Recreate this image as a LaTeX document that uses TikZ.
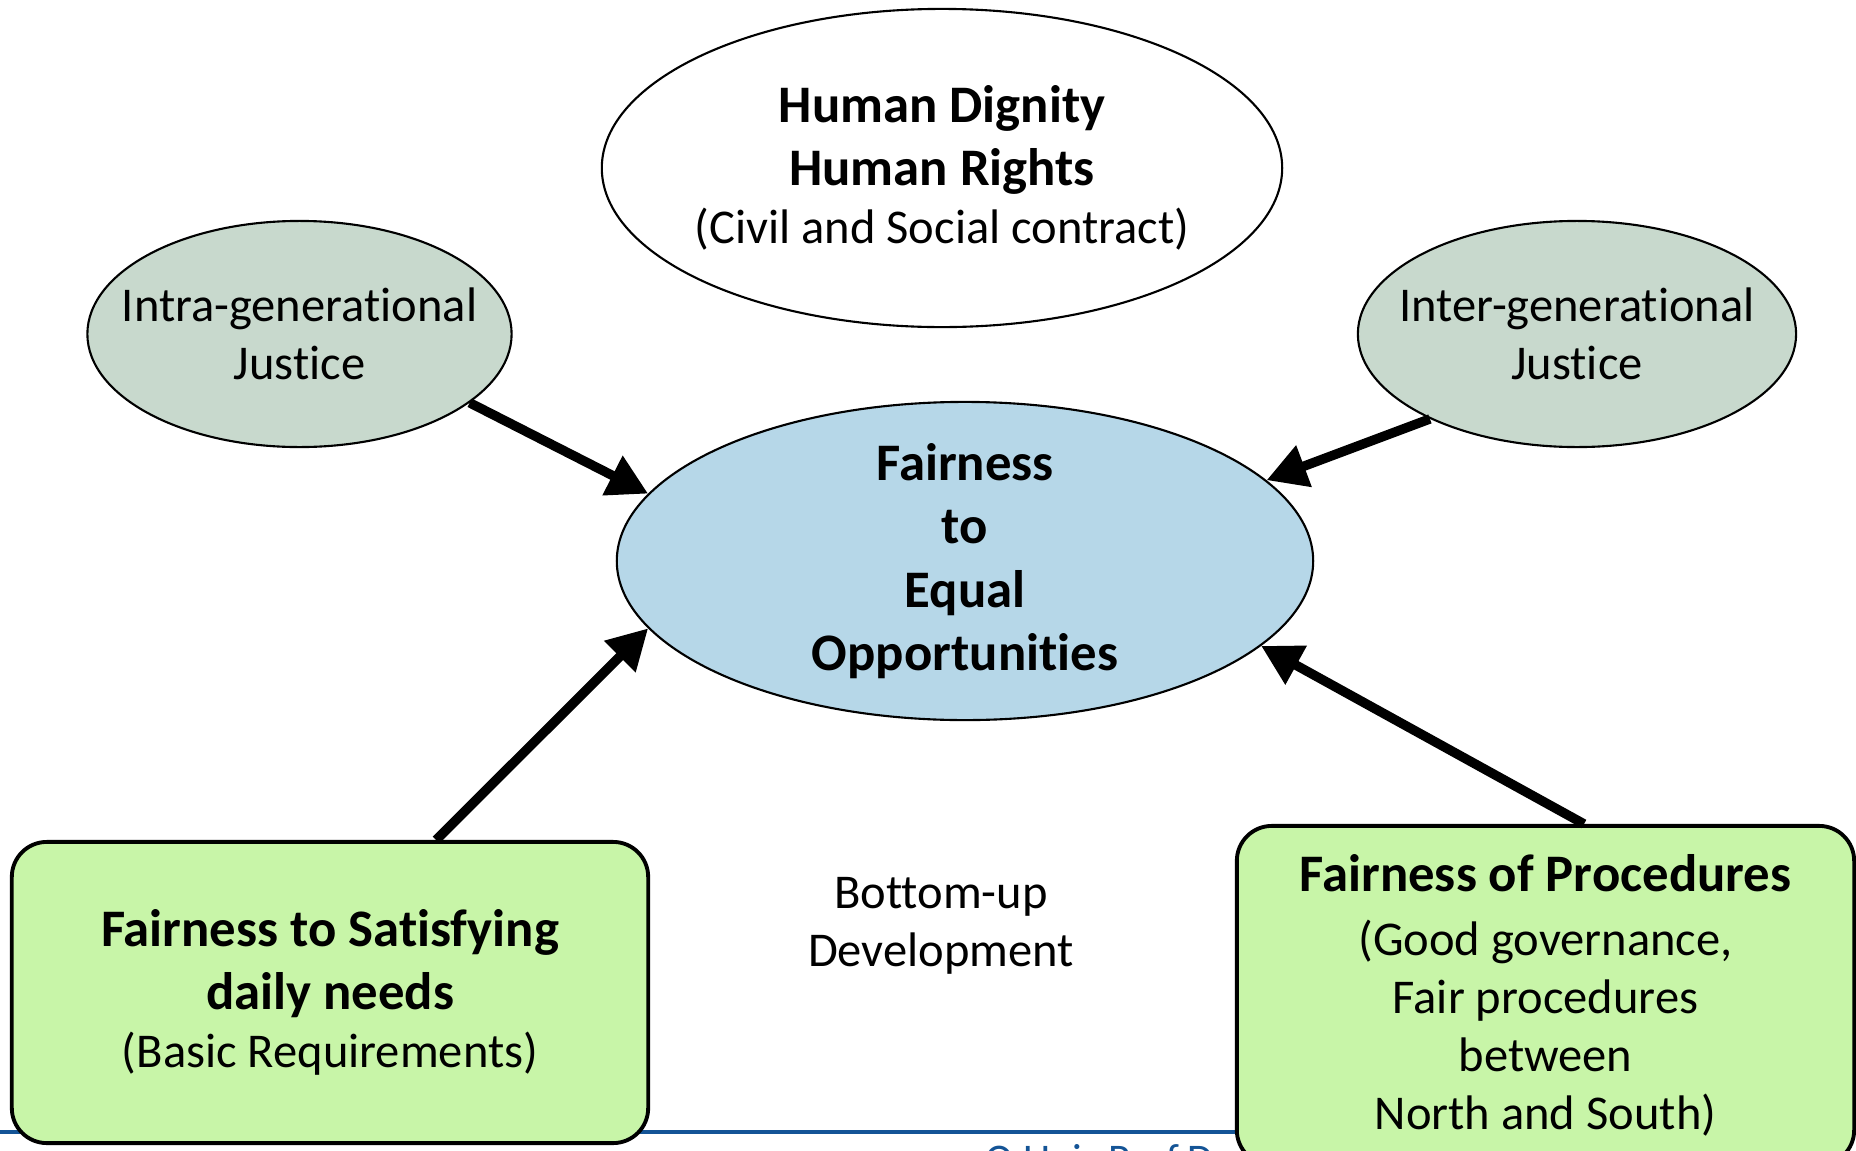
\documentclass[tikz,border=0pt]{standalone}
\usepackage{fontspec}
\setmainfont{Carlito}[Ligatures=NoCommon]
\usetikzlibrary{shapes.geometric,arrows.meta}
\definecolor{sagegreen}{RGB}{200,217,205}
\definecolor{paleblue}{RGB}{182,215,232}
\definecolor{limegreen}{RGB}{200,245,168}
\definecolor{footblue}{RGB}{20,84,150}
\newcommand{\heavy}[1]{{\fontsize{15}{16.5}\selectfont\bfseries #1}}

\begin{document}
\begin{tikzpicture}[x=.01cm,y=-.01cm,
  blob/.style={ellipse,draw,line width=.6pt,inner sep=-1cm,align=center,
    font=\fontsize{13.8}{16.5}\selectfont},
  panel/.style={draw,line width=1.1pt,rounded corners=.35cm,fill=limegreen,
    inner sep=0pt,align=center,font=\fontsize{13.8}{16.5}\selectfont},
  fat/.style={line width=2.7pt,-{Triangle[length=.4cm,width=.42cm]}}]

\clip (0,0) rectangle (1856,1151);

% ellipses
\node[blob,minimum width=6.8cm,minimum height=3.18cm] (dignity)
  at (942,168) {\heavy{Human Dignity}\\[1.5pt]\heavy{Human Rights}\\(Civil and Social contract)};
\node[blob,fill=sagegreen,minimum width=4.24cm,minimum height=2.26cm] (intra)
  at (299.5,334) {Intra-generational\\Justice};
\node[blob,fill=sagegreen,minimum width=4.38cm,minimum height=2.26cm] (inter)
  at (1577,334) {Inter-generational\\Justice};
\node[blob,fill=paleblue,minimum width=6.96cm,minimum height=3.18cm] (fair)
  at (965,561) {\heavy{Fairness}\\[1.5pt]\heavy{to}\\[1.5pt]\heavy{Equal}\\[1.5pt]\heavy{Opportunities}};

\node[align=center,font=\fontsize{13.8}{16.5}\selectfont] (bottomup)
  at (941,926) {Bottom-up\\Development};

% footer
\coordinate (rule) at (0,1132);
\draw[footblue,line width=1.4pt] (rule) -- (rule -| 1237,0);
\node[anchor=north west,inner sep=0pt,text=footblue,
  font=\fontsize{12}{14}\selectfont] (credit) at (985,1144) {O.Univ.Prof.Dr.};

% boxes
\node[panel,minimum width=6.36cm,minimum height=3.01cm] (needs)
  at (330,992.5) {\heavy{Fairness to Satisfying}\\[1.5pt]\heavy{daily needs}\\(Basic Requirements)};
\node[panel,minimum width=6.17cm,minimum height=3.39cm] (procs)
  at (1545.5,995.5) {\heavy{Fairness of Procedures}\\[1.5pt](Good governance,\\Fair procedures\\between\\North and South)};

% arrows
\draw[fat] (intra.-22) -- (fair.168);
\draw[fat] (inter.210) -- (fair.15);
\draw[fat] ([xshift=1.06cm]needs.north) -- (fair.192);
\draw[fat] ([xshift=.385cm]procs.north) -- (fair.-16);
\end{tikzpicture}
\end{document}
